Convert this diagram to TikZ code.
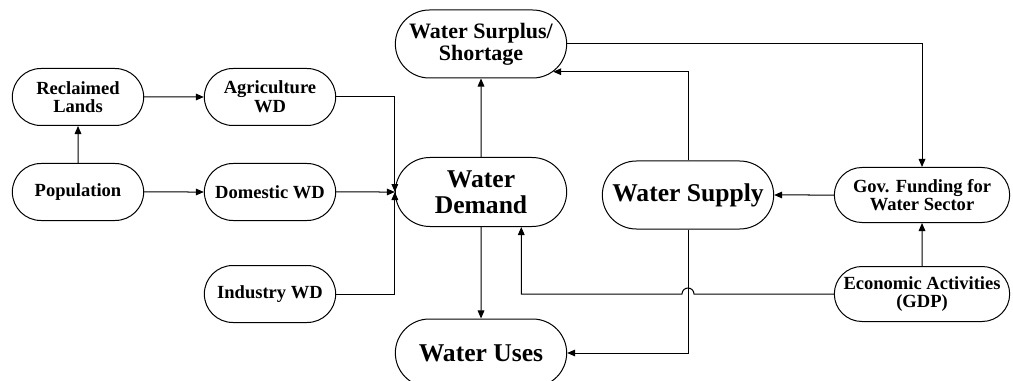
\documentclass[tikz,border=0pt]{standalone}
\usepackage{fontspec}
\setmainfont{Liberation Serif}
\usetikzlibrary{calc,arrows.meta,shapes.misc}

\begin{document}
\begin{tikzpicture}[x=0.75pt, y=-0.75pt, line width=0.75pt,
  >={Triangle[length=6pt,width=5pt]},
  box/.style={draw, rounded rectangle, align=center, inner sep=1pt,
    minimum width=100.5pt, minimum height=42.75pt,
    font=\bfseries\fontsize{13.9}{14}\selectfont},
  bigbox/.style={box, minimum width=130.5pt, minimum height=51pt,
    font=\bfseries\fontsize{19.2}{19.5}\selectfont},
  widebox/.style={box, minimum width=133.5pt, minimum height=41.25pt}]

\useasboundingbox (0,0) rectangle (1013,381);
\clip (0,0) rectangle (1013,381);

% left side
\node[box] (reclaimed) at (78,97) {Reclaimed\\Lands};
\node[box] (agri) at (270,97) {Agriculture\\WD};
\node[box] (pop) at (78,192) {Population};
\node[box] (domestic) at (270,192) {Domestic WD};
\node[box] (industry) at (270,294) {Industry WD};

% middle
\node[bigbox, font=\bfseries\fontsize{16.5}{16.5}\selectfont] (surplus) at (481,44) {Water Surplus/\\Shortage};
\node[bigbox, minimum height=51.75pt] (demand) at (481,192) {Water\\Demand};
\node[bigbox] (supply) at (688,195) {Water Supply};
\node[bigbox] (uses) at (481,353) {Water Uses};

% right side
\node[widebox] (gov) at (922,195) {Gov. Funding for\\Water Sector};
\node[widebox] (econ) at (922,294) {Economic Activities\\(GDP)};

\draw[->] (pop) -- (reclaimed);
\draw[->] (reclaimed) -- (agri);
\draw[->] (pop) -- (domestic);
\draw[->] (agri) -| (demand.west);
\draw[->] (domestic) -- (demand);
\draw[->] (industry) -| (demand.west);
\draw[->] (demand) -- (surplus);
\draw[->] (demand) -- (uses);
\draw[->] (supply) |- (surplus.-21);
\draw[->] (surplus) -| (gov);
\draw[->] (gov) -- (supply);
\draw[->] (econ) -- (gov);
\draw[->] (supply) |- (uses);
\draw[->] (econ.west) -- ($(supply.south |- econ.west)+(6,0)$)
  arc[start angle=0, end angle=180, radius=4.5pt] -| (demand.-41);

\end{tikzpicture}
\end{document}
